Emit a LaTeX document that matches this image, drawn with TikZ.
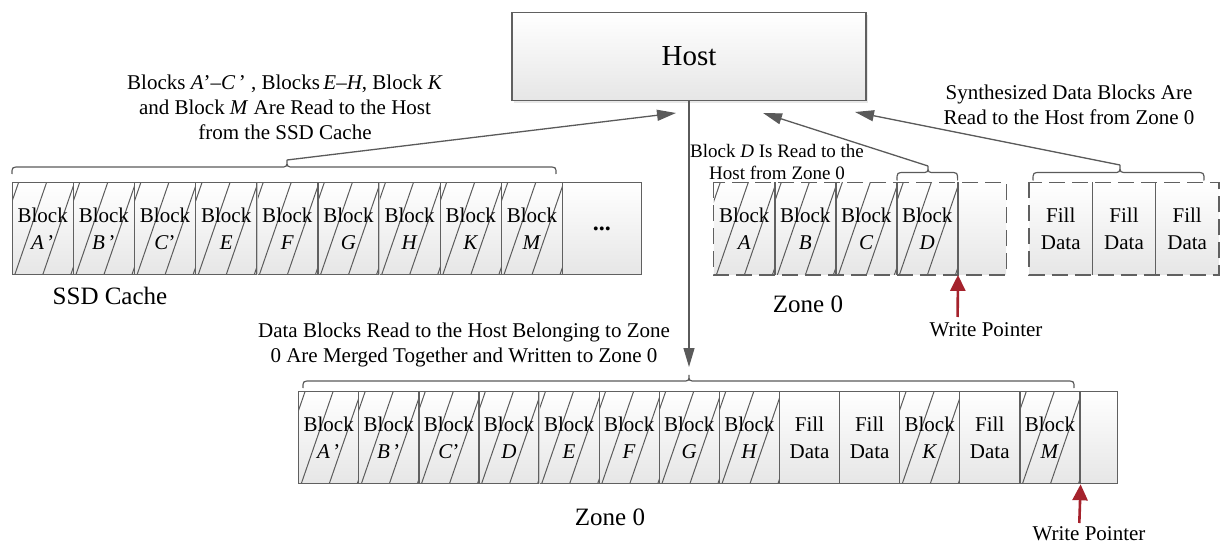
\documentclass[tikz,border=0pt]{standalone}
\usepackage{fontspec}
\setmainfont{Liberation Serif}
\usetikzlibrary{arrows.meta,shadows}
\definecolor{boxline}{HTML}{606060}
\definecolor{hatchcol}{HTML}{5C5C5C}
\definecolor{arrcol}{HTML}{5A5A5A}
\definecolor{wpred}{HTML}{A5222C}
\definecolor{cellbot}{HTML}{E6E6E6}
\definecolor{lightsep}{HTML}{C4C4C4}
\newcommand{\myfs}[2]{\fontsize{#1}{#2}\selectfont}
\newcommand{\mybrace}[6]{\draw[bracestyle] (#1,#4) .. controls (#1,#5) .. ({#1+8},#5) -- ({#3-7},#5) .. controls (#3,#5) .. (#3,#6) .. controls (#3,#5) .. ({#3+7},#5) -- ({#2-8},#5) .. controls (#2,#5) .. (#2,#4);}
\tikzset{
  cellbase/.style={anchor=north west, inner sep=0pt, minimum height=92pt,
    top color=white, bottom color=cellbot, align=center, font=\myfs{21}{27}, text=black},
  cell/.style={cellbase, draw=boxline, line width=1.3pt, minimum width=#1},
  zcell/.style={cellbase, draw=none, minimum width=#1},
  hatched/.style={path picture={
    \foreach \k in {-1,0,1,2}{
      \draw[hatchcol, line width=1pt] ([shift={(\k*28-1.5,12)}]path picture bounding box.south west) -- ++(40,-116);}
  }},
  sepline/.style={draw=boxline, line width=1.3pt},
  lightline/.style={draw=lightsep, line width=1.3pt},
  dashbox/.style={draw=boxline, line width=1.3pt, dash pattern=on 16pt off 7pt},
  hostbox/.style={draw=boxline, line width=1.3pt, top color=white, bottom color=cellbot,
    minimum width=354pt, minimum height=88pt, inner sep=0pt, font=\myfs{29}{34},
    drop shadow={shadow xshift=2pt, shadow yshift=-2pt, fill=gray!35}},
  bracestyle/.style={draw=arrcol, line width=1.2pt},
  arr/.style={draw=arrcol, line width=1.3pt, -{Triangle[length=19pt,width=11pt]}},
  wp/.style={draw=wpred, line width=2.6pt, -{Triangle[length=16pt,width=15pt]}},
  txt/.style={font=\myfs{21}{25}, align=center, inner sep=0pt, text=black},
  lbl/.style={font=\myfs{25}{30}, inner sep=0pt, text=black}
}
\begin{document}
\begin{tikzpicture}[x=1pt,y=-1pt]
\useasboundingbox (0,0) rectangle (1220,545);
% Host
\node[hostbox] (host) at (689,56.6) {Host};

% SSD cache row
\node[cell=61.15pt,hatched] (sA) at (11.5,182) {Block\\\textit{A}\,’};
\node[cell=61.15pt,hatched] (sB) at (72.65,182) {Block\\\textit{B}\,’};
\node[cell=61.15pt,hatched] (sC) at (133.8,182) {Block\\\textit{C}’};
\node[cell=61.15pt,hatched] (sE) at (194.95,182) {Block\\\textit{E}};
\node[cell=61.15pt,hatched] (sF) at (256.1,182) {Block\\\textit{F}};
\node[cell=61.15pt,hatched] (sG) at (317.25,182) {Block\\\textit{G}};
\node[cell=61.15pt,hatched] (sH) at (378.4,182) {Block\\\textit{H}};
\node[cell=61.15pt,hatched] (sK) at (439.55,182) {Block\\\textit{K}};
\node[cell=61.15pt,hatched] (sM) at (500.7,182) {Block\\\textit{M}};
\node[cell=78.95pt] (sdots) at (561.85,182) {\myfs{24}{27}\textbf{...}};
\foreach \c in {sE,sG} \draw[lightline] ([yshift=-0.7pt]\c.north east) -- ([yshift=0.7pt]\c.south east);
\node[lbl] (lS) at (110,296) {SSD Cache};

% Zone 0 (top right)
\node[zcell=61pt,hatched] (zA) at (713.6,182.5) {Block\\\textit{A}};
\node[zcell=61pt,hatched] (zB) at (774.6,182.5) {Block\\\textit{B}};
\node[zcell=61pt,hatched] (zC) at (835.6,182.5) {Block\\\textit{C}};
\node[zcell=61pt,hatched] (zD) at (896.6,182.5) {Block\\\textit{D}};
\node[zcell=48.4pt] (zE) at (957.6,182.5) {};
\foreach \c in {zA,zB,zC,zD} \draw[sepline] (\c.north east) -- (\c.south east);
\draw[dashbox] (zA.north west) rectangle (zE.south east);
\node[lbl] (lZ1) at (808,304) {Zone 0};

% Fill data group
\node[zcell=63.2pt] (f1) at (1029,182.5) {Fill\\Data};
\node[zcell=63.2pt] (f2) at (1092.2,182.5) {Fill\\Data};
\node[zcell=63.2pt] (f3) at (1155.4,182.5) {Fill\\Data};
\foreach \c in {f1,f2} \draw[sepline] (\c.north east) -- (\c.south east);
\draw[dashbox] (f1.north west) rectangle (f3.south east);

% Bottom Zone 0 row
\node[cell=60.1pt,hatched] (bA) at (298,391) {Block\\\textit{A}\,’};
\node[cell=60.1pt,hatched] (bB) at (358.1,391) {Block\\\textit{B}\,’};
\node[cell=60.1pt,hatched] (bC) at (418.2,391) {Block\\\textit{C}’};
\node[cell=60.1pt,hatched] (bD) at (478.3,391) {Block\\\textit{D}};
\node[cell=60.1pt,hatched] (bE) at (538.4,391) {Block\\\textit{E}};
\node[cell=60.1pt,hatched] (bF) at (598.5,391) {Block\\\textit{F}};
\node[cell=60.1pt,hatched] (bG) at (658.6,391) {Block\\\textit{G}};
\node[cell=60.1pt,hatched] (bH) at (718.7,391) {Block\\\textit{H}};
\node[cell=60.1pt] (bF1) at (778.8,391) {Fill\\Data};
\node[cell=60.1pt] (bF2) at (838.9,391) {Fill\\Data};
\node[cell=60.1pt,hatched] (bK) at (899,391) {Block\\\textit{K}};
\node[cell=60.1pt] (bF3) at (959.1,391) {Fill\\Data};
\node[cell=60.1pt,hatched] (bM) at (1019.2,391) {Block\\\textit{M}};
\node[cell=37.7pt] (bX) at (1079.3,391) {};
\foreach \c in {bD} \draw[lightline] ([yshift=-0.7pt]\c.north east) -- ([yshift=0.7pt]\c.south east);
\node[lbl] (lZ2) at (610,517) {Zone 0};

% Braces
\mybrace{12}{556}{287}{174}{167}{160}
\mybrace{897}{957.6}{928}{180.5}{172.5}{166}
\mybrace{1033}{1204}{1120}{180.5}{172.5}{165}
\mybrace{303}{1074}{689}{388}{381}{375}
\coordinate (tipS) at (287,160);
\coordinate (tipD) at (928,166);
\coordinate (tipF) at (1120,165);
\coordinate (tipB) at (689,367);
\coordinate (hS) at (676,113);
\coordinate (hD) at (763,113);
\coordinate (hF) at (855,112);

% Arrows
\draw[arr] (tipS) -- (hS);
\draw[arr] (tipD) -- (hD);
\draw[arr] (tipF) -- (hF);
\draw[arr] (host.south) -- (tipB);

% Texts
\node[txt] (tS) at (285,107) {Blocks \textit{A}’–\textit{C}\,’ , Blocks\,\textit{E}–\textit{H}, Block \textit{K}\\and Block \textit{M} Are Read to the Host\\from the SSD Cache};
\node[txt] (tF) at (1069,105) {Synthesized Data Blocks Are\\Read to the Host from Zone 0};
\node[txt, font=\myfs{19}{22}] (tD) at (777,162) {Block \textit{D} Is Read to the\\Host from Zone 0};
\node[txt] (tB) at (464,345) {Data Blocks Read to the Host Belonging to Zone\\0 Are Merged Together and Written to Zone 0};

% Write pointers
\node[txt] (wpt1) at (986,330) {Write Pointer};
\coordinate (wps1) at (957.6,317);
\draw[wp] (wps1) -- (zD.south east);
\node[txt] (wpt2) at (1089,534) {Write Pointer};
\coordinate (wps2) at (1079.3,523);
\draw[wp] (wps2) -- (bM.south east);
\end{tikzpicture}
\end{document}
